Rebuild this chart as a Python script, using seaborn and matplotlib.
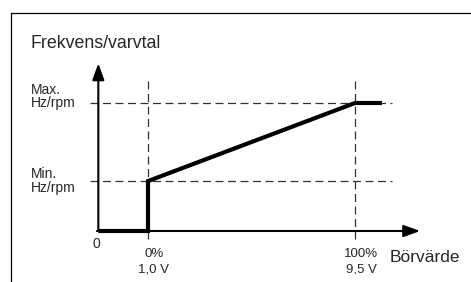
"""Schematic: output frequency vs. setpoint (Börvärde)."""

import matplotlib.pyplot as plt
import seaborn as sns
from matplotlib.lines import Line2D

sns.set_style("white")
plt.rcParams["font.family"] = ["Liberation Sans", "DejaVu Sans"]

# Data, in % of setpoint range (x) and % of max frequency (y)
setpoint = [-24, 0, 0, 100, 113]
freq = [0, 0, 39, 100, 100]
min_level = 39
max_level = 100
x_marks = [0, 100]
x_tick_top = ["0%", "100%"]
x_tick_bottom = ["1,0 V", "9,5 V"]

W, H = 471, 282
fig = plt.figure(figsize=(W / 100, H / 100), dpi=100)
ax = fig.add_axes([0, 0, 1, 1])

# pixel scale of the schematic: x0 at px 148, 2.07 px per %; y0 at px 231, 1.28 px per %
ax.set_xlim(-148 / 2.07, (W - 148) / 2.07)
ax.set_ylim((231 - H) / 1.28, 231 / 1.28)
ax.set_axis_off()


def fx(px, py):
    return px / W, 1 - py / H


# frame (top and left only)
fig.add_artist(Line2D([11 / W, 1], [1 - 13 / H, 1 - 13 / H], color="black", lw=0.9))
fig.add_artist(Line2D([11 / W, 11 / W], [0, 1 - 13 / H], color="black", lw=0.9))

dash_kw = dict(color="#333333", lw=0.9, dashes=(6.4, 3.6))
for lvl in [min_level, max_level]:
    ax.plot([-28, 118], [lvl, lvl], **dash_kw)
for xm in x_marks:
    ax.plot([xm, xm], [-6, 119.5], **dash_kw)

# axes with arrows
arrow_kw = dict(arrowstyle="-|>,head_length=1.0,head_width=0.36", color="black",
                lw=1.5, mutation_scale=10, shrinkA=0, shrinkB=0)
ax.annotate("", xy=(-24, 131), xytext=(-24, 0), arrowprops=arrow_kw)
ax.annotate("", xy=(131.5, 0), xytext=(-24.7, 0), arrowprops=arrow_kw)

# characteristic curve
sns.lineplot(x=setpoint, y=freq, estimator=None, sort=False, color="black",
             linewidth=3, ax=ax)
ax.lines[-1].set_solid_joinstyle("miter")
ax.lines[-1].set_solid_capstyle("butt")
ax.set_axis_off()

# texts
fig.text(*fx(31, 48), "Frekvens/varvtal", fontsize=12.8, va="baseline")
fig.text(*fx(31, 94), "Max.", fontsize=10, va="baseline")
fig.text(*fx(31, 107), "Hz/rpm", fontsize=10, va="baseline")
fig.text(*fx(31, 178), "Min.", fontsize=10, va="baseline")
fig.text(*fx(31, 192), "Hz/rpm", fontsize=10, va="baseline")
fig.text(*fx(96, 248), "0", fontsize=10, va="baseline", ha="center")
for xm, top, bottom in zip(x_marks, x_tick_top, x_tick_bottom):
    px = 148 + 2.07 * xm + 6
    fig.text(*fx(px, 257), top, fontsize=9.5, va="baseline", ha="center")
    fig.text(*fx(px, 273), bottom, fontsize=9.5, va="baseline", ha="center")
fig.text(*fx(390, 262), "Börvärde", fontsize=12.5, va="baseline")

fig.savefig("out.png", dpi=100)
